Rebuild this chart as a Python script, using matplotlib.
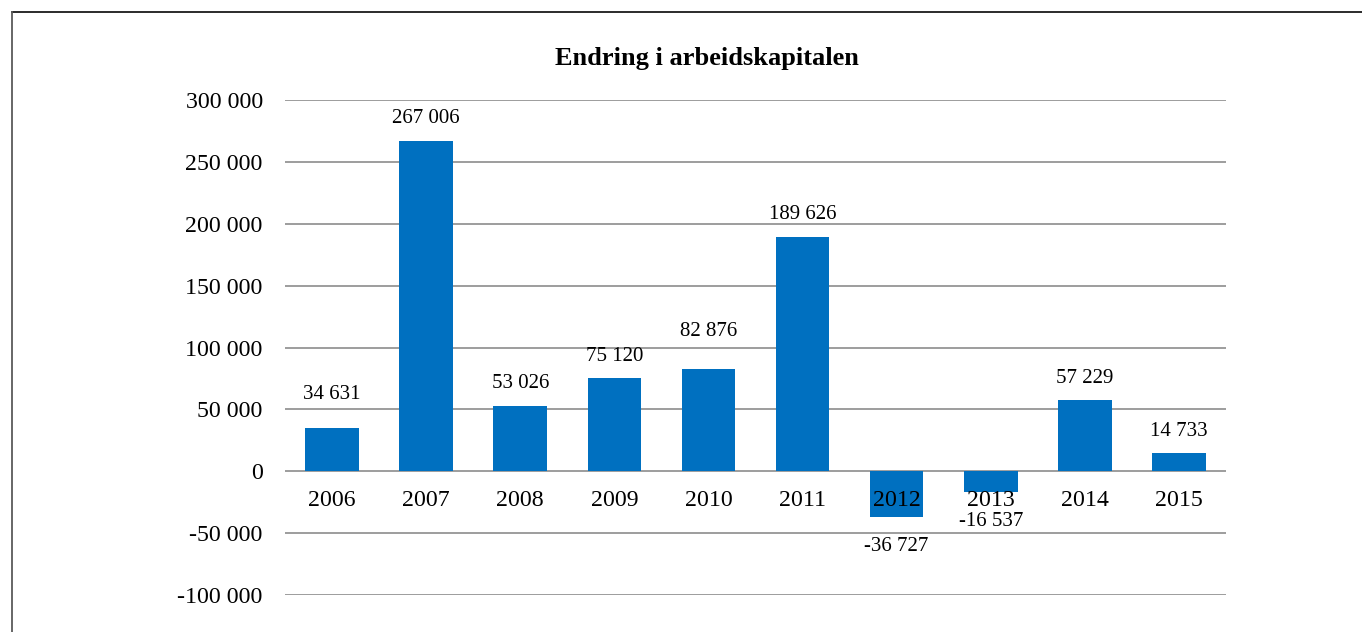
import matplotlib
matplotlib.use("Agg")
import matplotlib.pyplot as plt
from matplotlib.lines import Line2D

years = ["2006", "2007", "2008", "2009", "2010", "2011", "2012", "2013", "2014", "2015"]
values = [34631, 267006, 53026, 75120, 82876, 189626, -36727, -16537, 57229, 14733]
yticks = [-100000, -50000, 0, 50000, 100000, 150000, 200000, 250000, 300000]
title = "Endring i arbeidskapitalen"

# extra label lift (pixels) where the original nudged labels off gridlines
label_lift = [12, 0, 0, 0, 15, 0, 0, 0, 0, 0]

def fmt(v):
    s = f"{abs(v):,}".replace(",", " ")
    return ("-" if v < 0 else "") + s

plt.rcParams['font.family'] = ['Liberation Serif', 'DejaVu Serif']

W, H = 1362, 632
fig = plt.figure(figsize=(W / 100, H / 100), dpi=100)
ax = fig.add_axes([285 / W, 1 - 595 / H, (1226 - 285) / W, (595 - 100) / H])

x = list(range(len(years)))
ax.bar(x, values, width=0.57, color="#0070C0", zorder=2)
ax.set_xlim(-0.5, len(years) - 0.5)
ax.set_ylim(-100000, 300000)
ax.set_yticks(yticks)
ax.set_yticklabels([fmt(v) for v in yticks], fontsize=17.2)
ax.tick_params(axis="y", length=0, pad=16)
ax.set_xticks([])
ax.grid(axis="y", color="#8c8c8c", linewidth=1.2, zorder=1)
for s in ax.spines.values():
    s.set_visible(False)

for xi, (yr, v, lift) in enumerate(zip(years, values, label_lift)):
    ax.annotate(yr, (xi, 0), xytext=(0, -29), textcoords="offset pixels",
                ha="center", va="center", fontsize=17.2, zorder=3)
    if v >= 0:
        ax.annotate(fmt(v), (xi, v), xytext=(0, 22 + lift), textcoords="offset pixels",
                    ha="center", va="center", fontsize=15, zorder=3)
    else:
        ax.annotate(fmt(v), (xi, v), xytext=(0, -30), textcoords="offset pixels",
                    ha="center", va="center", fontsize=15, zorder=3)

fig.text(707 / W, 1 - 58 / H, title, ha="center", va="center",
         fontsize=19, fontweight="bold")

fig.add_artist(Line2D([12 / W, 1], [1 - 12 / H, 1 - 12 / H], color="#1a1a1a", linewidth=1.3))
fig.add_artist(Line2D([12 / W, 12 / W], [1 - 12 / H, 0], color="#5a5a5a", linewidth=1.3))

fig.savefig("out.png", dpi=100)
